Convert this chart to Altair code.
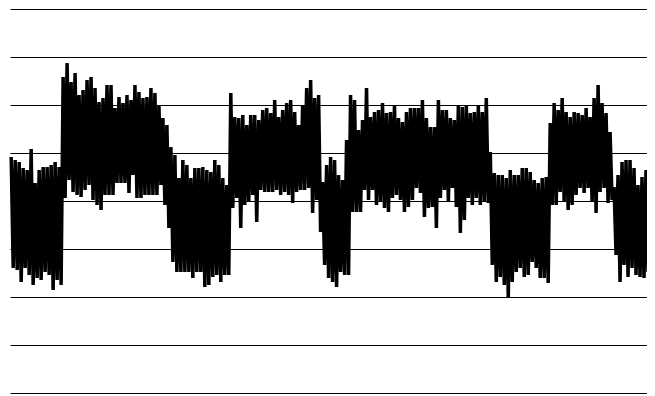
import altair as alt
import pandas as pd

# Envelope of the noisy signal, read every 4 px across the plot (upper and lower excursion per sample)
upper = [236, 233, 231, 225, 223, 244, 210, 223, 226, 226, 228, 231, 226,
         316, 330, 311, 320, 298, 303, 313, 316, 305, 291, 295, 308, 308, 285, 296, 290, 298,
         293, 308, 301, 295, 296, 305, 300, 288, 275, 268,
         246, 238, 215, 233, 228, 215, 225, 225, 226, 223, 221, 233, 228, 215, 208,
         300, 276, 275, 278, 268, 278, 278, 273, 283, 285, 280, 293, 276, 283, 290, 293, 281,
         268, 288, 305, 313, 295, 298,
         211, 228, 236, 233, 218, 213, 253,
         298, 293, 263, 273, 305, 276, 281, 283, 290, 280, 281, 288, 275, 271, 281, 285, 285,
         285, 293, 275, 266, 266, 293, 283, 283, 275, 273, 288, 286, 288, 280, 281, 288, 281, 295,
         241, 220, 218, 218, 215, 223, 218, 218, 225, 225, 221, 213, 210, 215, 216,
         270, 290, 283, 295, 281, 276, 281, 280, 278, 285, 276, 295, 308, 290, 280, 261,
         206, 218, 231, 233, 233, 225, 208, 216, 223]

lower = [125, 123, 111, 125, 118, 108, 115, 113, 121, 118, 103, 113, 108,
         195, 213, 201, 198, 196, 203, 208, 193, 188, 183, 198, 198, 198, 210, 210, 210, 200,
         218, 195, 195, 198, 198, 198, 198, 208, 188, 165,
         131, 121, 121, 121, 121, 115, 121, 121, 106, 108, 116, 118, 111, 118, 118,
         185, 195, 165, 188, 191, 198, 171, 203, 201, 201, 201, 203, 198, 201, 198, 190, 201,
         203, 203, 205, 180, 193, 161,
         128, 115, 111, 106, 121, 118, 118,
         181, 181, 181, 203, 193, 203, 188, 191, 185, 181, 195, 198, 193, 181, 186, 193, 205,
         200, 176, 185, 186, 165, 195, 203, 191, 205, 186, 160, 173, 195, 188, 195, 188, 191, 190,
         128, 111, 116, 108, 95, 111, 121, 125, 116, 118, 131, 125, 115, 115, 110,
         188, 188, 201, 191, 183, 188, 198, 205, 200, 205, 191, 180, 201, 205, 190, 193,
         138, 111, 128, 116, 125, 118, 116, 115, 121]

grid_values = [0, 48, 96, 144, 192, 240, 288, 336, 384]

rows = []
for i, (u, l) in enumerate(zip(upper, lower)):
    rows.append({"t": 2 * i, "v": u})
    rows.append({"t": 2 * i + 1, "v": l})
df = pd.DataFrame(rows)

chart = alt.Chart(df).mark_line(color="black", strokeWidth=3.5, strokeJoin="miter", strokeMiterLimit=1.5).encode(
    x=alt.X("t:Q", scale=alt.Scale(domain=[-0.6, 318.5], nice=False, zero=False), axis=None),
    y=alt.Y("v:Q", scale=alt.Scale(domain=[0, 384], nice=False),
            axis=alt.Axis(values=grid_values, labels=False, ticks=False, domain=False,
                          title=None, grid=True, gridColor="#000000", gridOpacity=1, gridWidth=1)),
).properties(
    width=637, height=384,
    autosize=alt.AutoSizeParams(type="none"),
    padding={"left": 2, "top": 1, "right": 0, "bottom": 2},
).configure_view(stroke=None)

chart.save("out.html", embed_options={"renderer": "svg", "actions": False})
